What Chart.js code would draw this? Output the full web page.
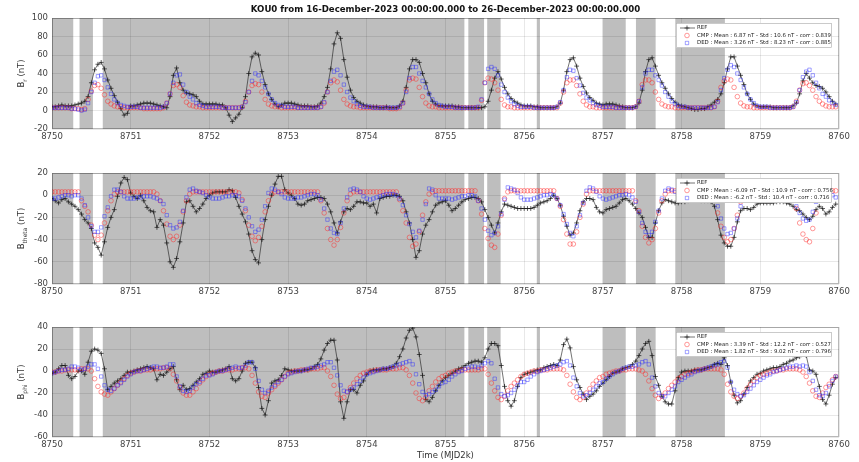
<!DOCTYPE html>
<html>
<head>
<meta charset="utf-8">
<script src="https://cdn.jsdelivr.net/npm/chart.js@4.4.0/dist/chart.umd.min.js"></script>
<style>
  html, body { margin: 0; padding: 0; background: #fff; }
  #wrap { position: relative; width: 859px; height: 462px; overflow: hidden; }
  canvas { position: absolute; left: 0; }
</style>
</head>
<body>
<div id="wrap">
  <canvas id="cR" width="859" height="145" style="top:0"></canvas>
  <canvas id="cT" width="859" height="155" style="top:145px"></canvas>
  <canvas id="cP" width="859" height="162" style="top:300px"></canvas>
</div>
<script>
// Hourly samples starting at MJD2000 day 8750
const T0 = 8750;
const SAMPLES_PER_DAY = 24;

const TITLE = 'KOU0 from 16-December-2023 00:00:00.000 to 26-December-2023 00:00:00.000';
const X_TITLE = 'Time (MJD2k)';
const X_TICKS = [8750, 8751, 8752, 8753, 8754, 8755, 8756, 8757, 8758, 8759, 8760];

// Grey bands (MJD2k start / end)
const SHADE_START = [8750.00, 8750.35, 8750.645, 8755.29, 8755.53, 8756.16, 8757.00, 8757.42, 8757.92];
const SHADE_END   = [8750.27, 8750.52, 8755.24,  8755.49, 8755.70, 8756.20, 8757.29, 8757.67, 8758.55];

// ---- B_r (nT) ----
const BR_REF = [
  4,4,5,6,5,5,5,6,7,8,10,15,30,44,50,52,45,33,24,16,9,2,-5,-3,
  5,5,6,7,8,8,8,7,6,5,4,3,15,38,46,30,22,19,18,17,15,10,7,7,
  7,7,7,6,6,3,-5,-12,-8,-4,3,15,40,58,62,60,42,28,18,12,7,4,6,8,
  8,8,7,6,5,5,5,4,4,5,8,15,25,45,72,84,78,55,36,22,14,10,8,6,
  5,4,4,4,3,3,4,3,3,3,5,10,25,45,55,55,52,40,30,18,10,7,5,5,
  5,5,5,4,4,3,3,3,3,3,3,3,4,10,22,35,42,34,25,18,13,10,8,6,
  5,5,5,4,4,3,3,3,3,3,4,8,22,42,55,57,48,35,26,19,14,11,8,7,
  6,7,7,7,6,5,4,3,3,3,4,8,22,42,55,57,48,38,30,24,18,13,9,6,
  5,4,3,2,1,1,2,2,4,6,9,12,18,30,45,58,58,48,38,28,18,12,7,5,
  4,4,4,4,3,3,3,3,3,3,5,8,18,32,40,35,30,27,26,24,20,15,10,7
];
const BR_CMP = [
  3,3,3,3,3,3,2,2,2,1,2,12,21,27,28,24,17,10,7,5,4,4,3,3,
  3,3,3,3,2,2,2,2,2,2,3,8,18,27,28,25,16,9,6,5,4,4,3,3,
  3,3,3,3,3,3,3,3,3,3,4,10,20,27,29,28,20,12,7,5,4,4,3,3,
  3,3,3,3,3,3,3,3,3,3,4,8,20,30,33,31,22,12,7,5,4,4,3,3,
  3,3,3,3,3,3,3,2,2,2,3,8,22,33,35,34,25,15,8,5,4,4,3,3,
  3,3,3,3,3,3,3,3,3,3,3,11,30,35,34,30,22,12,6,4,4,3,3,3,
  3,3,3,3,3,3,3,3,3,3,3,8,20,30,33,33,27,18,10,6,4,4,3,3,
  3,3,3,3,3,3,3,3,3,3,4,10,28,33,33,30,20,12,7,5,4,4,3,3,
  3,3,3,3,3,3,3,3,3,3,4,10,25,32,34,33,25,15,8,5,4,4,3,3,
  3,3,3,3,3,3,3,3,3,3,4,10,22,29,30,27,22,15,10,7,5,4,4,4
];
const BR_DED = [
  3,3,3,3,3,3,2,2,1,0,1,8,20,30,37,38,33,25,18,12,8,6,5,4,
  4,4,4,3,3,3,3,3,3,3,4,8,18,30,38,39,28,20,15,12,8,6,5,4,
  4,4,4,4,3,3,3,3,3,3,4,9,20,32,40,38,32,25,18,12,8,6,5,4,
  4,4,4,3,3,3,3,3,3,3,4,9,20,32,42,44,38,28,20,14,10,7,5,4,
  4,4,3,3,3,3,3,3,3,3,4,8,20,35,47,47,40,32,25,18,12,8,6,5,
  4,4,4,3,3,3,3,3,3,3,4,12,30,45,47,45,38,28,20,14,10,7,5,4,
  4,4,4,3,3,3,3,3,3,3,4,9,22,36,44,43,35,27,19,14,11,8,6,5,
  4,4,4,4,3,3,3,3,3,3,4,10,25,40,44,44,38,33,27,20,15,10,7,5,
  4,4,3,3,3,3,3,3,3,3,4,9,22,35,44,49,47,40,33,25,18,12,8,5,
  4,4,4,3,3,3,3,3,3,3,4,9,22,36,42,44,38,30,24,18,15,11,8,6
];

// ---- B_theta (nT) ----
const BT_REF = [
  -3,-5,-7,-4,-3,-6,-8,-10,-13,-17,-22,-25,-30,-43,-47,-54,-42,-29,-20,-13,-1,11,16,14,
  2,-1,-3,0,-5,-11,-14,-15,-29,-22,-27,-43,-60,-65,-57,-42,-25,-6,-5,-10,-15,-12,-8,-3,
  0,2,3,3,3,3,5,4,-2,-10,-17,-24,-35,-50,-58,-61,-40,-22,-10,0,10,17,17,5,
  2,0,-3,-8,-9,-8,-5,-4,-3,-2,-2,-3,-8,-15,-25,-34,-24,-15,-12,-13,-10,-6,-6,-7,
  -7,-10,-8,-16,-3,-2,-1,-1,0,0,-1,-5,-15,-25,-40,-56,-50,-35,-27,-22,-15,-9,-7,-6,
  -5,-9,-14,-12,-9,-6,-4,-3,-2,-2,-3,-6,-13,-20,-27,-34,-25,-15,-8,-9,-10,-11,-12,-12,
  -12,-12,-12,-11,-9,-7,-6,-5,-3,0,-3,-9,-19,-28,-36,-34,-25,-14,-6,-3,-3,-4,-11,-15,
  -16,-13,-12,-11,-10,-7,-4,-3,-5,-8,-12,-16,-20,-29,-38,-38,-25,-14,-7,-4,-5,-6,-7,-7,
  -6,-6,-5,-4,-4,-4,-5,-5,-5,-6,-10,-22,-36,-43,-46,-46,-38,-24,-14,-12,-12,-13,-11,-8,
  -7,-7,-7,-7,-7,-6,-6,-6,-7,-8,-10,-13,-14,-17,-20,-22,-19,-13,-10,-12,-17,-15,-11,-8
];
const BT_CMP = [
  3,3,3,3,3,3,3,3,3,-5,-10,-15,-27,-36,-40,-36,-25,-14,-5,1,3,3,3,3,
  3,3,3,3,3,3,3,3,1,-5,-14,-26,-37,-40,-37,-27,-15,-5,1,3,3,3,3,3,
  3,3,3,3,3,3,3,3,3,2,-4,-14,-27,-37,-41,-38,-28,-15,-5,1,3,3,3,3,
  3,3,3,3,3,3,3,3,3,3,-5,-16,-30,-40,-45,-40,-29,-16,-5,1,3,3,3,3,
  3,3,3,3,3,3,3,3,3,3,-4,-14,-25,-38,-46,-44,-33,-18,-6,1,3,4,4,4,
  4,4,4,4,4,4,4,4,4,4,-5,-17,-30,-39,-45,-47,-35,-18,-3,3,4,4,4,4,
  4,4,4,4,4,4,4,4,4,4,-3,-10,-22,-35,-44,-44,-33,-20,-8,1,4,4,4,4,
  4,4,4,4,4,4,4,4,4,4,-5,-14,-28,-38,-43,-40,-30,-16,-5,1,4,4,4,4,
  4,4,4,4,4,4,4,4,4,4,-4,-16,-28,-38,-42,-40,-30,-18,-6,1,4,4,4,4,
  4,4,4,4,4,4,4,4,4,4,-3,-12,-25,-35,-40,-42,-30,-16,-4,2,4,4,4,4
];
const BT_DED = [
  -3,-3,-2,-1,0,0,-1,0,0,-3,-9,-20,-28,-33,-33,-29,-19,-11,-1,5,5,3,-1,-3,
  -3,-3,-2,-2,-1,-1,-1,-2,-3,-5,-8,-18,-27,-30,-29,-24,-14,-2,5,6,4,3,2,0,
  -2,-3,-3,-3,-2,-1,-1,0,0,-1,-5,-12,-20,-28,-33,-31,-22,-10,2,6,5,3,1,-2,
  -3,-3,-3,-2,-2,-1,0,1,1,0,-4,-12,-22,-30,-34,-35,-25,-12,-2,5,6,5,3,-1,
  -3,-4,-3,-2,-1,0,1,1,1,0,-3,-9,-18,-26,-33,-38,-32,-22,-8,6,5,0,-3,-3,
  -3,-3,-4,-3,-2,-1,-1,0,0,-1,-5,-12,-22,-32,-36,-34,-28,-17,-4,7,6,5,2,-2,
  -4,-4,-4,-3,-2,-1,0,0,1,0,-3,-9,-17,-26,-34,-37,-28,-18,-7,4,7,6,3,-1,
  -3,-4,-3,-2,-1,0,0,1,0,-2,-6,-15,-25,-33,-36,-33,-24,-14,-3,4,6,5,3,0,
  -2,-3,-3,-2,-1,0,1,1,0,-2,-5,-10,-21,-30,-35,-34,-30,-21,-10,0,5,5,3,1,
  -1,-2,-3,-2,-1,0,0,1,0,-2,-5,-10,-16,-21,-23,-22,-15,-6,3,6,5,3,0,-2
];

// ---- B_phi (nT) ----
const BP_REF = [
  -2,-1,2,5,5,-4,-7,-5,0,0,-3,8,18,20,19,16,2,-17,-14,-11,-9,-7,-4,-1,
  -1,0,1,2,3,4,3,2,-8,-3,-4,-1,2,4,-8,-17,-13,-17,-16,-13,-10,-7,-3,-2,
  0,-1,-1,0,1,2,4,-7,-9,-7,0,7,8,8,3,-15,-34,-40,-27,-11,-9,-8,-4,2,
  1,0,0,0,0,1,1,2,4,6,11,19,25,28,28,10,-28,-43,-28,-17,-17,-20,-13,-9,
  -3,0,1,1,1,2,2,3,4,7,13,20,30,37,39,31,15,-4,-26,-28,-24,-18,-13,-9,
  -6,-4,-2,0,2,3,5,7,8,9,9,8,12,20,25,25,23,5,-14,-27,-32,-27,-14,-6,
  -3,-2,-1,0,1,1,3,4,5,6,5,10,24,29,21,4,-8,-15,-21,-26,-23,-21,-18,-14,
  -11,-8,-5,-2,-1,0,2,3,4,6,9,14,20,25,27,14,-5,-13,-23,-28,-30,-30,-18,-6,
  -1,0,0,0,1,1,1,2,3,4,6,7,6,12,5,-10,-22,-29,-27,-21,-15,-9,-6,-3,
  -2,0,1,2,3,3,4,6,7,9,10,12,13,17,14,1,0,-3,-14,-26,-30,-22,-12,-6
];
const BP_CMP = [
  -1,-1,0,0,1,1,1,1,1,2,2,2,0,-7,-14,-19,-21,-22,-19,-16,-13,-10,-7,-4,
  -2,-1,0,0,1,1,1,2,2,2,3,3,2,-3,-9,-15,-20,-22,-22,-19,-16,-11,-8,-5,
  -3,-2,-1,0,0,1,1,1,2,2,3,3,2,-4,-11,-19,-23,-24,-20,-17,-14,-11,-8,-5,
  -2,-1,0,0,1,1,1,2,2,2,3,3,0,-5,-13,-21,-25,-24,-19,-15,-11,-7,-4,-2,
  -1,0,0,1,1,1,1,2,2,2,3,3,1,-4,-11,-20,-25,-27,-24,-18,-14,-10,-7,-5,
  -4,-2,-1,0,0,1,1,1,1,1,1,2,2,-3,-11,-18,-24,-26,-23,-18,-14,-11,-8,-5,
  -3,-2,-1,0,0,1,1,1,2,2,2,2,1,-4,-12,-19,-24,-26,-24,-20,-16,-12,-9,-6,
  -5,-3,-2,-1,0,0,1,1,2,2,2,1,0,-3,-9,-16,-22,-25,-23,-20,-16,-13,-10,-7,
  -5,-3,-2,-1,0,1,1,2,2,2,2,2,1,-3,-12,-19,-23,-25,-23,-20,-16,-12,-9,-6,
  -4,-3,-2,-1,0,0,1,1,2,2,2,2,1,-1,-5,-11,-18,-23,-24,-20,-15,-12,-8,-5
];
const BP_DED = [
  -2,-1,0,1,1,2,4,4,3,1,2,4,6,6,2,-5,-13,-17,-18,-16,-13,-11,-8,-5,
  -3,-1,0,0,1,2,3,4,4,3,3,4,6,6,-5,-14,-18,-19,-18,-15,-12,-10,-7,-4,
  -4,-3,-1,0,0,1,2,3,4,3,3,5,8,8,2,-9,-17,-20,-18,-15,-13,-10,-8,-5,
  -3,-2,-1,0,0,1,2,3,3,4,5,6,8,8,3,-4,-13,-18,-19,-17,-15,-12,-9,-6,
  -3,-2,-1,0,1,2,2,3,4,5,6,7,8,9,6,-3,-12,-19,-22,-21,-19,-17,-14,-11,
  -10,-8,-5,-3,-1,0,2,3,4,4,3,5,7,9,7,-7,-15,-21,-23,-22,-20,-17,-13,-10,
  -10,-8,-5,-3,-1,0,1,2,3,4,5,6,8,9,5,-6,-14,-20,-23,-22,-20,-17,-14,-11,
  -10,-7,-5,-3,-1,0,2,3,4,4,5,6,8,9,6,-6,-14,-20,-23,-23,-20,-17,-14,-10,
  -8,-6,-4,-3,-1,0,1,2,3,4,5,6,8,9,3,-10,-17,-21,-23,-22,-19,-16,-13,-10,
  -8,-6,-4,-3,-1,0,1,2,3,4,4,5,4,5,4,-1,-9,-17,-22,-23,-20,-14,-9,-5
];

// Legend captions per component
const LEG_R = ['REF', 'CMP : Mean : 6.87 nT - Std : 10.6 nT - corr : 0.839', 'DED : Mean : 3.26 nT - Std : 8.23 nT - corr : 0.885'];
const LEG_T = ['REF', 'CMP : Mean : -6.09 nT - Std : 10.9 nT - corr : 0.756', 'DED : Mean : -6.2 nT - Std : 10.4 nT - corr : 0.716'];
const LEG_P = ['REF', 'CMP : Mean : 3.39 nT - Std : 12.2 nT - corr : 0.527', 'DED : Mean : 1.82 nT - Std : 9.02 nT - corr : 0.796'];

// ---------------- drawing ----------------
const FONT = '"DejaVu Sans", "Liberation Sans", sans-serif';
const SHADE = '#bebebe';
const COL_REF = 'rgba(20,20,20,0.85)';
const COL_CMP = 'rgba(255,40,40,0.6)';
const COL_DED = 'rgba(40,40,255,0.55)';

const toXY = arr => arr.map((v, i) => ({ x: T0 + i / SAMPLES_PER_DAY, y: v }));

function marker(ctx, kind, x, y) {
  ctx.beginPath();
  if (kind === 'cross') {
    ctx.strokeStyle = COL_REF; ctx.lineWidth = 0.8;
    ctx.moveTo(x - 2.5, y); ctx.lineTo(x + 2.5, y);
    ctx.moveTo(x, y - 2.5); ctx.lineTo(x, y + 2.5);
  } else if (kind === 'circle') {
    ctx.strokeStyle = COL_CMP; ctx.lineWidth = 0.8;
    ctx.arc(x, y, 2.3, 0, Math.PI * 2);
  } else {
    ctx.strokeStyle = COL_DED; ctx.lineWidth = 0.8;
    ctx.rect(x - 1.7, y - 1.7, 3.4, 3.4);
  }
  ctx.stroke();
}

const decor = {
  id: 'decor',
  beforeDraw(chart) {
    const { ctx, chartArea: a, scales: { x } } = chart;
    ctx.save();
    ctx.fillStyle = '#fff';
    ctx.fillRect(0, 0, chart.width, chart.height);
    ctx.fillStyle = SHADE;
    for (let i = 0; i < SHADE_START.length; i++) {
      const x0 = Math.max(a.left, x.getPixelForValue(SHADE_START[i]));
      const x1 = Math.min(a.right, x.getPixelForValue(SHADE_END[i]));
      if (x1 > x0) ctx.fillRect(x0, a.top, x1 - x0, a.bottom - a.top);
    }
    ctx.restore();
  },
  afterDraw(chart) {
    const o = chart.options.plugins.decor;
    const { ctx, chartArea: a } = chart;
    ctx.save();
    // frame
    ctx.strokeStyle = 'rgba(0,0,0,0.28)';
    ctx.lineWidth = 1;
    ctx.strokeRect(a.left + 0.5, a.top + 0.5, a.right - a.left - 1, a.bottom - a.top - 1);

    // y-axis label with subscript, rotated
    ctx.save();
    const cy = (a.top + a.bottom) / 2;
    ctx.translate(24, cy);
    ctx.rotate(-Math.PI / 2);
    ctx.fillStyle = '#333';
    ctx.textBaseline = 'alphabetic';
    const fMain = '8.5px ' + FONT, fSub = '6px ' + FONT;
    ctx.font = fMain; const w1 = ctx.measureText('B').width;
    ctx.font = fSub;  const w2 = ctx.measureText(o.sub).width;
    ctx.font = fMain; const w3 = ctx.measureText(' (nT)').width;
    let px = -(w1 + w2 + w3) / 2;
    ctx.font = fMain; ctx.fillText('B', px, 0); px += w1;
    ctx.font = fSub;  ctx.fillText(o.sub, px, 2.5); px += w2;
    ctx.font = fMain; ctx.fillText(' (nT)', px, 0);
    ctx.restore();

    // legend box
    const bx = a.right - 163, by = a.top + 5, bw = 156, bh = 25;
    ctx.fillStyle = '#fff';
    ctx.fillRect(bx, by, bw, bh);
    ctx.strokeStyle = 'rgba(0,0,0,0.35)';
    ctx.lineWidth = 0.6;
    ctx.strokeRect(bx + 0.5, by + 0.5, bw - 1, bh - 1);
    const rows = [by + 5, by + 12.5, by + 20];
    const mx = bx + 11;
    ctx.strokeStyle = COL_REF; ctx.lineWidth = 0.7;
    ctx.beginPath(); ctx.moveTo(bx + 4, rows[0]); ctx.lineTo(bx + 19, rows[0]); ctx.stroke();
    marker(ctx, 'cross', mx, rows[0]);
    marker(ctx, 'circle', mx, rows[1]);
    marker(ctx, 'rect', mx, rows[2]);
    ctx.fillStyle = '#222';
    ctx.font = '5.4px ' + FONT;
    ctx.textBaseline = 'middle';
    ctx.textAlign = 'left';
    o.legend.forEach((t, i) => ctx.fillText(t, bx + 21, rows[i]));

    // figure title / x-axis title
    ctx.fillStyle = '#111';
    ctx.textAlign = 'center';
    ctx.textBaseline = 'middle';
    if (o.title) {
      ctx.font = 'bold 8.6px ' + FONT;
      ctx.fillText(o.title, (a.left + a.right) / 2, 10);
    }
    if (o.xTitle) {
      ctx.fillStyle = '#333';
      ctx.font = '8.5px ' + FONT;
      ctx.fillText(o.xTitle, (a.left + a.right) / 2, chart.height - 6);
    }
    ctx.restore();
  }
};

function makePanel(id, cfg) {
  const tickFont = { family: FONT, size: 8.5 };
  return new Chart(document.getElementById(id), {
    type: 'scatter',
    data: {
      datasets: [
        { label: 'REF', data: toXY(cfg.ref), showLine: true, borderColor: COL_REF, borderWidth: 0.7,
          pointStyle: 'cross', pointRadius: 2.4, pointBorderColor: COL_REF, pointBorderWidth: 0.8,
          backgroundColor: 'transparent', order: 2 },
        { label: 'CMP', data: toXY(cfg.cmp), showLine: false, pointStyle: 'circle', pointRadius: 2.3,
          pointBorderColor: COL_CMP, pointBackgroundColor: 'transparent', pointBorderWidth: 0.8, order: 1 },
        { label: 'DED', data: toXY(cfg.ded), showLine: false, pointStyle: 'rect', pointRadius: 2.4,
          pointBorderColor: COL_DED, pointBackgroundColor: 'transparent', pointBorderWidth: 0.8, order: 0 }
      ]
    },
    options: {
      responsive: false,
      animation: false,
      devicePixelRatio: 1,
      layout: { padding: { left: 0, right: 20, top: cfg.padTop, bottom: 0 } },
      plugins: {
        legend: { display: false },
        tooltip: { enabled: false },
        decor: { sub: cfg.sub, legend: cfg.legend, title: cfg.title, xTitle: cfg.xTitle }
      },
      scales: {
        x: {
          type: 'linear', min: X_TICKS[0], max: X_TICKS[X_TICKS.length - 1],
          afterFit(s) { s.height = cfg.xAxisH; },
          afterBuildTicks(s) { s.ticks = X_TICKS.map(v => ({ value: v })); },
          ticks: { padding: 3, font: tickFont, color: '#444', maxRotation: 0, autoSkip: false,
                   callback: v => String(v) },
          grid: { color: 'rgba(0,0,0,0.09)', drawTicks: false, lineWidth: 1 },
          border: { display: false }
        },
        y: {
          min: cfg.yMin, max: cfg.yMax,
          afterFit(s) { s.width = 52; },
          ticks: { stepSize: 20, padding: 4, font: tickFont, color: '#444', callback: v => String(v) },
          grid: { color: 'rgba(0,0,0,0.09)', drawTicks: false, lineWidth: 1 },
          border: { display: false }
        }
      }
    },
    plugins: [decor]
  });
}

makePanel('cR', { ref: BR_REF, cmp: BR_CMP, ded: BR_DED, yMin: -20, yMax: 100, sub: 'r',
  legend: LEG_R, title: TITLE, padTop: 18, xAxisH: 16 });
makePanel('cT', { ref: BT_REF, cmp: BT_CMP, ded: BT_DED, yMin: -80, yMax: 20, sub: 'theta',
  legend: LEG_T, padTop: 28, xAxisH: 16 });
makePanel('cP', { ref: BP_REF, cmp: BP_CMP, ded: BP_DED, yMin: -60, yMax: 40, sub: 'phi',
  legend: LEG_P, xTitle: X_TITLE, padTop: 27, xAxisH: 25 });
</script>
</body>
</html>
